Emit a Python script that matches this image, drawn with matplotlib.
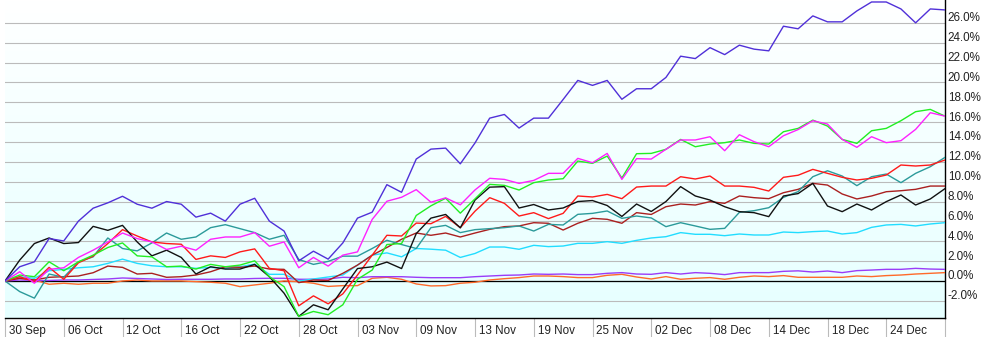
import numpy as np
import matplotlib
matplotlib.use("Agg")
import matplotlib.pyplot as plt
from matplotlib.colors import LinearSegmentedColormap
from matplotlib.transforms import ScaledTranslation

plt.rcParams['font.family'] = ['Liberation Sans', 'DejaVu Sans']

# cumulative return (%) per trading day, 30 Sep -> 31 Dec
blue = [0, 1.43, 1.93, 4.27, 4.03, 6.03, 7.33, 7.87, 8.53, 7.73,
        7.33, 8.0, 7.73, 6.43, 6.83, 6.03, 7.73, 8.33, 6.03, 5.03,
        2.03, 3.0, 2.2, 3.83, 6.33, 6.93, 9.7, 8.93, 12.28, 13.28,
        13.38, 11.8, 13.9, 16.4, 16.77, 15.4, 16.4, 16.4, 18.28, 20.2,
        19.7, 20.2, 18.3, 19.36, 19.36, 20.5, 22.64, 22.4, 23.5, 22.8,
        23.75, 23.35, 23.18, 25.66, 25.4, 26.7, 26.1, 26.1, 27.2, 28.1,
        28.1, 27.4, 26.0, 27.4, 27.3]
black = [0, 2.1, 3.77, 4.33, 3.77, 3.87, 5.5, 5.1, 5.6, 3.93,
         2.53, 3.1, 2.37, 0.7, 1.43, 1.2, 1.2, 1.67, 0.43, -1.23,
         -3.57, -2.4, -2.9, -0.8, 1.25, 1.43, 1.9, 1.25, 4.77, 6.33,
         6.7, 5.35, 8.15, 9.45, 9.5, 7.35, 7.7, 7.15, 7.35, 8.0,
         8.1, 7.6, 6.5, 7.75, 7.0, 8.0, 9.5, 8.56, 8.15, 7.48,
         6.98, 6.88, 6.48, 8.56, 8.8, 9.83, 7.55, 6.98, 7.75, 7.15,
         7.99, 8.66, 7.65, 8.26, 9.3]
magenta = [0, 0.93, -0.23, 1.17, 1.33, 2.37, 3.1, 3.93, 4.83, 4.27,
           3.93, 3.17, 3.5, 3.1, 4.2, 4.43, 4.43, 4.87, 3.5, 3.93,
           1.33, 2.37, 1.5, 2.6, 2.93, 6.2, 8.03, 8.43, 9.2, 7.93,
           8.37, 7.67, 9.17, 10.34, 10.23, 9.83, 10.13, 10.84, 10.84, 12.35,
           11.91, 12.85, 10.23, 12.32, 12.28, 13.26, 14.2, 14.2, 14.53, 13.12,
           14.73, 14.03, 13.52, 14.63, 15.25, 16.14, 15.8, 14.26, 13.46, 14.53,
           13.93, 14.13, 15.27, 16.95, 16.6]
green = [0, 0.6, 0.43, 1.93, 1.03, 1.93, 2.6, 3.37, 3.83, 2.53,
         2.43, 1.43, 1.5, 1.2, 1.67, 1.43, 1.6, 2.03, 0.43, -0.57,
         -3.57, -3.07, -3.4, -2.4, 0.17, 1.1, 3.67, 3.77, 6.6, 7.57,
         8.33, 6.83, 8.27, 9.73, 9.63, 9.16, 9.9, 10.17, 10.3, 12.08,
         11.85, 12.58, 10.37, 12.82, 12.85, 13.26, 14.26, 13.52, 13.79, 13.93,
         14.2, 13.86, 13.79, 15.03, 15.37, 16.2, 15.6, 14.26, 13.86, 15.13,
         15.37, 16.14, 17.05, 17.28, 16.6]
red = [0, 0.43, -0.07, 1.37, 0.17, 1.83, 2.5, 3.77, 5.17, 4.53,
       3.93, 3.77, 3.7, 2.17, 2.53, 2.37, 2.93, 3.23, 1.27, 1.03,
       -2.5, -1.5, -2.3, -1.3, 0.6, 2.6, 4.6, 4.53, 5.83, 5.77,
       6.5, 5.37, 7.03, 8.39, 7.82, 6.54, 6.88, 6.28, 6.81, 8.56,
       8.46, 8.72, 8.29, 9.46, 9.56, 9.56, 10.5, 10.27, 10.57, 9.56,
       9.56, 9.43, 9.06, 10.44, 10.65, 11.24, 10.84, 10.44, 10.17, 10.34,
       10.67, 11.68, 11.58, 11.68, 12.18]
teal = [0, -1.07, -1.73, 0.7, 0.37, 1.93, 2.43, 4.33, 3.27, 3.03,
        3.83, 4.83, 4.2, 4.43, 5.37, 5.67, 5.27, 4.87, 4.2, 4.6,
        2.17, 1.67, 1.97, 2.5, 2.5, 3.27, 4.1, 3.67, 3.27, 5.37,
        5.6, 4.87, 5.17, 5.27, 5.37, 5.54, 5.03, 5.7, 5.64, 6.71,
        6.81, 7.05, 6.31, 6.54, 6.35, 5.47, 5.87, 5.54, 5.2, 5.3,
        6.91, 7.08, 7.38, 8.42, 9.0, 10.5, 11.1, 10.57, 9.6, 10.5,
        10.77, 9.9, 10.84, 11.51, 12.45]
brown = [0, 0.27, 0.1, 0.37, 0.43, 0.5, 0.83, 1.5, 1.37, 0.7,
         0.77, 0.37, 0.43, 0.6, 0.93, 1.43, 1.37, 1.5, 1.2, 1.17,
         -0.17, 0.1, 0.05, 0.77, 1.6, 2.6, 3.37, 4.2, 4.83, 4.6,
         4.83, 4.43, 4.83, 5.2, 5.47, 5.54, 5.87, 5.81, 5.13, 5.81,
         6.31, 6.21, 5.81, 6.88, 6.7, 7.48, 7.75, 7.65, 7.99, 7.82,
         8.56, 8.39, 8.29, 8.89, 9.23, 9.83, 9.66, 8.76, 8.26, 8.56,
         8.99, 9.09, 9.23, 9.56, 9.56]
cyan = [0, 0.43, 0.27, 1.03, 1.17, 1.33, 1.43, 1.77, 2.2, 1.77,
        1.53, 1.43, 1.43, 1.27, 1.37, 1.27, 1.43, 1.7, 0.67, 0.67,
        0.0, 0.2, 0.4, 0.6, 1.6, 2.6, 2.83, 2.43, 3.27, 3.2,
        3.1, 2.37, 2.77, 3.42, 3.42, 3.19, 3.59, 3.46, 3.52, 3.79,
        3.79, 3.96, 3.79, 4.09, 4.33, 4.46, 4.87, 4.7, 4.7, 4.56,
        4.73, 4.63, 4.63, 4.93, 4.87, 4.97, 5.03, 4.73, 4.87, 5.4,
        5.64, 5.7, 5.54, 5.74, 5.87]
purple = [0, 0.1, 0.05, 0.05, 0.1, 0.1, 0.15, 0.2, 0.3, 0.25,
          0.2, 0.15, 0.17, 0.17, 0.17, 0.2, 0.2, 0.25, 0.27, 0.27,
          0.17, 0.17, 0.2, 0.37, 0.33, 0.43, 0.43, 0.43, 0.37, 0.33,
          0.33, 0.33, 0.43, 0.5, 0.57, 0.6, 0.7, 0.67, 0.7, 0.64,
          0.64, 0.77, 0.84, 0.7, 0.67, 0.84, 0.7, 0.84, 0.77, 0.64,
          0.84, 0.84, 0.84, 0.97, 1.02, 0.9, 1.0, 0.84, 1.04, 1.1,
          1.17, 1.17, 1.27, 1.2, 1.17]
orange = [0, 0.27, 0.1, -0.33, -0.23, -0.33, -0.23, -0.23, 0.0, 0.1,
          0.0, 0.0, 0.0, -0.07, -0.13, -0.23, -0.57, -0.4, -0.23, 0.0,
          -0.07, -0.23, -0.55, -0.47, -0.47, 0.27, 0.37, 0.17, -0.3, -0.5,
          -0.47, -0.23, -0.13, 0.1, 0.23, 0.34, 0.5, 0.5, 0.44, 0.34,
          0.34, 0.57, 0.67, 0.4, 0.2, 0.44, 0.17, 0.27, 0.34, 0.17,
          0.37, 0.5, 0.44, 0.54, 0.37, 0.37, 0.37, 0.37, 0.5, 0.44,
          0.54, 0.6, 0.7, 0.77, 0.84]

date_labels = ['30 Sep', '06 Oct', '12 Oct', '16 Oct', '22 Oct', '28 Oct',
               '03 Nov', '09 Nov', '13 Nov', '19 Nov', '25 Nov', '02 Dec',
               '08 Dec', '14 Dec', '18 Dec', '24 Dec']

series = [
    (orange, '#ff6a2a'),
    (purple, '#9a3cf8'),
    (cyan, '#22ddff'),
    (brown, '#aa2020'),
    (teal, '#2b9a9a'),
    (red, '#ff1a1a'),
    (black, '#111111'),
    (green, '#22ee22'),
    (magenta, '#ff22ff'),
    (blue, '#5030d8'),
]

days = np.arange(len(blue))
ymin, ymax = -3.73, 28.3

fig = plt.figure(figsize=(9.82, 3.37), dpi=100)
ax = fig.add_axes([5 / 982, 19 / 337, 940 / 982, 318 / 337])

# white-to-pale-cyan background
bg = LinearSegmentedColormap.from_list('bg', ['#ffffff', '#e6ffff'])
ax.imshow(np.linspace(0, 1, 256).reshape(-1, 1), cmap=bg, aspect='auto',
          extent=[0, days[-1], ymin, ymax], origin='upper', zorder=0)

ax.set_yticks(np.arange(-2, 27, 2))
ax.yaxis.grid(True, color='#bbbbbb', lw=0.8, zorder=1)
ax.axhline(0, color='black', lw=0.9, zorder=2)

for vals, col in series:
    ax.plot(days, vals, color=col, lw=1.0, zorder=3)

ax.set_xlim(0, days[-1])
ax.set_ylim(ymin, ymax)

# percent labels on the right, sitting just above their gridline
ax.yaxis.tick_right()
ax.set_yticklabels(['%.1f%%' % v for v in np.arange(-2, 27, 2)])
ax.tick_params(axis='y', length=0, pad=2, labelsize=8.4, labelcolor='#222222')
up = ScaledTranslation(0, 6 / 100, fig.dpi_scale_trans)
for lbl in ax.get_yticklabels():
    lbl.set_transform(lbl.get_transform() + up)

# date labels sit to the right of each separator tick
ax.set_xticks(np.arange(0, days[-1] + 1, 4))
ax.set_xticklabels(date_labels + [''], ha='left')
ax.tick_params(axis='x', length=13.7, width=0.8, color='#bbbbbb',
               pad=-8.5, labelsize=8.4, labelcolor='#222222')
shift = ScaledTranslation(4 / 100, 0, fig.dpi_scale_trans)
for lbl in ax.get_xticklabels():
    lbl.set_transform(lbl.get_transform() + shift)
last = ax.xaxis.get_major_ticks()[-1]
last.tick1line.set_color('black')

for side in ['top', 'left']:
    ax.spines[side].set_visible(False)
ax.spines['bottom'].set_color('black')
ax.spines['right'].set_color('black')
ax.spines['bottom'].set_linewidth(1.0)
ax.spines['right'].set_linewidth(1.0)

fig.savefig('out.png', dpi=100)
